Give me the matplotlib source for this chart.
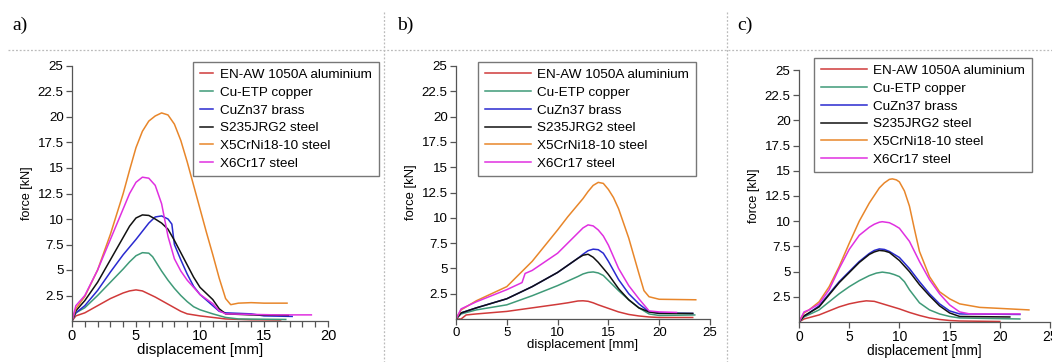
import matplotlib
matplotlib.use("Agg")
import matplotlib.pyplot as plt
from matplotlib.lines import Line2D

W, H = 1052, 362
DPI = 100

materials = ["EN-AW 1050A aluminium", "Cu-ETP copper", "CuZn37 brass",
             "S235JRG2 steel", "X5CrNi18-10 steel", "X6Cr17 steel"]
colors = ["#d03a3a", "#3f9a78", "#2a2ad0", "#111111", "#e8862a", "#e030e0"]
panel_labels = ["a)", "b)", "c)"]
ytick_vals = [2.5, 5, 7.5, 10, 12.5, 15, 17.5, 20, 22.5, 25]
ytick_labels = ["2.5", "5", "7.5", "10", "12.5", "15", "17.5", "20", "22.5", "25"]
xlabel = "displacement [mm]"
ylabel = "force [kN]"

# ---------------- panel a ----------------
a_al_x = [0, 0.3, 1, 2, 3, 4, 4.5, 5, 5.5, 6, 6.5, 7, 7.5, 8, 8.5, 9, 10, 11, 12, 14, 16.3]
a_al_y = [0, 0.5, 0.8, 1.5, 2.2, 2.75, 2.95, 3.05, 2.95, 2.65, 2.35, 2.0, 1.65, 1.3, 0.95, 0.7, 0.5, 0.35, 0.2, 0.12, 0.1]
a_cu_x = [0, 0.3, 1, 2, 3, 4, 4.5, 5, 5.5, 6, 6.3, 6.6, 7, 7.5, 8, 8.5, 9, 9.5, 10, 11, 12, 13, 16.7]
a_cu_y = [0, 0.8, 1.3, 2.5, 3.8, 5.1, 5.8, 6.4, 6.7, 6.65, 6.3, 5.7, 4.9, 4.0, 3.2, 2.5, 1.9, 1.4, 1.1, 0.7, 0.35, 0.2, 0.15]
a_br_x = [0, 0.3, 1, 2, 3, 4, 5, 5.5, 6, 6.5, 7, 7.5, 7.8, 8.0, 8.5, 9, 9.5, 10, 11, 11.5, 12, 14, 15, 17.2]
a_br_y = [0, 0.8, 1.5, 3.0, 4.8, 6.5, 8.0, 8.8, 9.6, 10.2, 10.3, 10.0, 9.5, 7.5, 6.0, 4.6, 3.4, 2.6, 1.5, 0.95, 0.8, 0.7, 0.5, 0.45]
a_st_x = [0, 0.3, 1, 2, 3, 4, 4.5, 5, 5.5, 6, 6.5, 7, 7.5, 8, 8.5, 9, 9.5, 10, 11, 11.5, 12, 14, 16.9]
a_st_y = [0, 1.0, 2.0, 3.8, 6.0, 8.2, 9.3, 10.1, 10.4, 10.35, 10.0, 9.6, 9.0, 7.9, 6.7, 5.5, 4.3, 3.3, 2.1, 1.2, 0.7, 0.6, 0.55]
a_ss_x = [0, 0.3, 1, 2, 3, 4, 4.5, 5, 5.5, 6, 6.5, 7, 7.5, 8, 8.5, 9, 9.5, 10, 10.5, 11, 11.5, 12, 12.4, 13, 14, 15, 16.8]
a_ss_y = [0, 1.2, 2.4, 5.0, 8.5, 12.5, 14.8, 17.0, 18.6, 19.6, 20.1, 20.4, 20.2, 19.3, 17.7, 15.6, 13.3, 11.0, 8.7, 6.5, 4.2, 2.2, 1.6, 1.75, 1.8, 1.75, 1.75]
a_fe_x = [0, 0.3, 1, 2, 3, 4, 4.5, 5, 5.5, 6, 6.5, 7, 7.5, 8, 8.5, 9, 10, 11, 11.5, 12, 14, 16, 18.7]
a_fe_y = [0, 1.5, 2.5, 5.0, 8.0, 11.0, 12.5, 13.6, 14.1, 14.0, 13.3, 11.5, 8.3, 6.1, 4.9, 4.0, 2.6, 1.7, 1.0, 0.7, 0.65, 0.6, 0.6]

# ---------------- panel b ----------------
b_al_x = [0, 0.5, 1, 2, 5, 7.5, 10, 11, 12, 12.5, 13, 13.5, 14, 15, 16, 17, 18, 19, 20, 23.3]
b_al_y = [0, 0.0, 0.4, 0.5, 0.75, 1.1, 1.45, 1.6, 1.78, 1.8, 1.75, 1.6, 1.4, 1.05, 0.7, 0.45, 0.3, 0.2, 0.15, 0.15]
b_cu_x = [0, 0.5, 2, 5, 7.5, 10, 11, 12, 12.5, 13, 13.5, 14, 14.5, 15, 16, 17, 18, 19, 20, 23.5]
b_cu_y = [0, 0.5, 0.9, 1.4, 2.3, 3.3, 3.75, 4.2, 4.45, 4.6, 4.65, 4.55, 4.3, 3.8, 2.8, 1.9, 1.1, 0.5, 0.35, 0.4]
b_br_x = [0, 0.5, 2, 5, 7.5, 10, 11, 12, 12.5, 13, 13.5, 14, 14.5, 15, 16, 17, 18, 19, 20, 23.3]
b_br_y = [0, 0.6, 1.1, 2.0, 3.2, 4.6, 5.3, 6.0, 6.4, 6.75, 6.9, 6.85, 6.5, 5.7, 3.9, 2.5, 1.5, 0.7, 0.6, 0.55]
b_st_x = [0, 0.5, 2, 5, 7.5, 10, 11, 12, 12.5, 13, 13.5, 14, 15, 16, 17, 18, 19, 20, 23.3]
b_st_y = [0, 0.6, 1.1, 2.0, 3.2, 4.6, 5.3, 6.0, 6.3, 6.4, 6.1, 5.6, 4.4, 3.0, 1.9, 1.1, 0.7, 0.55, 0.55]
b_ss_x = [0, 0.5, 2, 5, 7.5, 10, 11, 12, 12.5, 13, 13.5, 14, 14.5, 15, 15.5, 16, 17, 18, 18.5, 19, 20, 23.6]
b_ss_y = [0, 0.9, 1.8, 3.2, 5.7, 8.8, 10.1, 11.3, 11.9, 12.6, 13.2, 13.5, 13.4, 12.8, 12.0, 10.9, 8.0, 4.5, 2.8, 2.2, 1.95, 1.9]
b_fe_x = [0, 0.5, 2, 4, 5, 6.5, 6.8, 7.5, 10, 11, 12, 12.5, 13, 13.5, 14, 14.5, 15, 16, 17, 18, 19, 20, 21.7]
b_fe_y = [0, 1.0, 1.7, 2.5, 2.9, 3.6, 4.5, 4.8, 6.5, 7.5, 8.5, 9.0, 9.3, 9.2, 8.8, 8.2, 7.3, 5.0, 3.3, 2.0, 0.8, 0.7, 0.65]

# ---------------- panel c ----------------
c_al_x = [0, 0.5, 2, 3, 4, 5, 6, 6.7, 7.5, 8, 9, 10, 11, 12, 13, 14, 15, 16, 20]
c_al_y = [0, 0.3, 0.7, 1.1, 1.5, 1.8, 2.0, 2.1, 2.05, 1.9, 1.6, 1.3, 0.95, 0.65, 0.4, 0.25, 0.15, 0.1, 0.05]
c_cu_x = [0, 0.5, 2, 3, 4, 5, 6, 7, 7.7, 8.3, 9, 9.5, 10, 10.5, 11, 12, 13, 14, 15, 16, 22]
c_cu_y = [0, 0.5, 1.2, 2.0, 2.8, 3.5, 4.1, 4.6, 4.85, 4.95, 4.85, 4.7, 4.5, 4.0, 3.2, 1.9, 1.2, 0.8, 0.55, 0.4, 0.3]
c_br_x = [0, 0.5, 1, 2, 3, 4, 5, 6, 7, 7.5, 8, 8.5, 9, 10, 11, 12, 13, 14, 15, 16, 22]
c_br_y = [0, 0.6, 0.9, 1.6, 2.8, 4.0, 5.0, 6.0, 6.8, 7.1, 7.25, 7.2, 7.0, 6.4, 5.3, 4.0, 2.8, 1.8, 1.1, 0.8, 0.75]
c_st_x = [0, 0.5, 1, 2, 3, 4, 5, 6, 7, 7.5, 8, 8.5, 9, 10, 11, 12, 13, 14, 15, 16, 21]
c_st_y = [0, 0.6, 0.9, 1.5, 2.7, 3.9, 4.9, 5.9, 6.7, 6.95, 7.1, 7.05, 6.9, 6.1, 5.0, 3.7, 2.6, 1.6, 0.9, 0.55, 0.5]
c_ss_x = [0, 0.5, 1, 2, 3, 4, 5, 6, 7, 8, 8.5, 9, 9.3, 9.7, 10, 10.5, 11, 11.5, 12, 13, 14, 15, 16, 18, 20, 22.9]
c_ss_y = [0, 0.9, 1.2, 2.0, 3.5, 5.5, 7.8, 10.0, 11.8, 13.3, 13.8, 14.15, 14.2, 14.1, 13.9, 13.0, 11.5, 9.2, 7.0, 4.5, 3.0, 2.3, 1.8, 1.45, 1.35, 1.2]
c_fe_x = [0, 0.5, 1, 2, 3, 4, 5, 6, 7, 7.5, 8, 8.3, 9, 9.5, 10, 11, 12, 13, 14, 15, 16, 17, 22]
c_fe_y = [0, 1.0, 1.2, 1.8, 3.2, 5.3, 7.2, 8.6, 9.4, 9.7, 9.9, 9.95, 9.85, 9.6, 9.3, 8.0, 6.0, 4.2, 2.8, 1.7, 1.0, 0.8, 0.8]

panels = [
    [(a_al_x, a_al_y), (a_cu_x, a_cu_y), (a_br_x, a_br_y), (a_st_x, a_st_y), (a_ss_x, a_ss_y), (a_fe_x, a_fe_y)],
    [(b_al_x, b_al_y), (b_cu_x, b_cu_y), (b_br_x, b_br_y), (b_st_x, b_st_y), (b_ss_x, b_ss_y), (b_fe_x, b_fe_y)],
    [(c_al_x, c_al_y), (c_cu_x, c_cu_y), (c_br_x, c_br_y), (c_st_x, c_st_y), (c_ss_x, c_ss_y), (c_fe_x, c_fe_y)],
]

plt.rcParams['font.family'] = ['Liberation Sans', 'DejaVu Sans']

fig = plt.figure(figsize=(W / DPI, H / DPI), dpi=DPI)


def fx(px):
    return px / W


def fy(py):
    return 1 - py / H


# axes boxes in pixels: (x0, x_end, y_bottom, y_top)
boxes = [(72, 328, 321, 66), (456, 710, 319, 66), (799, 1050, 322, 70)]
xmaxes = [20, 25, 25]
xtick_sets = [[0, 5, 10, 15, 20], [0, 5, 10, 15, 20, 25], [0, 5, 10, 15, 20, 25]]
xtick_fs = [10.5, 9.5, 10]
xlabel_fs = [10.8, 9.5, 9.8]
ylabel_fs = [9.0, 9.4, 9.2]
ytick_fs = [9.6, 9.6, 9.6]
# legends: (left px, top px, handlelength)
legends = [(193, 62, 1.0), (478, 62, 3.4), (814, 58, 3.4)]
label_pos = [(12, 30), (397, 30), (737, 30)]

grey = "#555555"
for i in range(3):
    x0, x1, yb, yt = boxes[i]
    ax = fig.add_axes([fx(x0), fy(yb), fx(x1 - x0), (yb - yt) / H])
    for (xs, ys), col, name in zip(panels[i], colors, materials):
        ax.plot(xs, ys, color=col, lw=1.1, label=name, solid_joinstyle="round")
    ax.set_xlim(0, xmaxes[i])
    ax.set_ylim(0, 25)
    for s in ["top", "right"]:
        ax.spines[s].set_visible(False)
    for s in ["left", "bottom"]:
        ax.spines[s].set_color(grey)
        ax.spines[s].set_linewidth(0.9)
    ax.set_yticks(ytick_vals)
    ax.set_yticklabels(ytick_labels, fontsize=ytick_fs[i])
    ax.set_xticks(xtick_sets[i])
    ax.set_xticklabels([str(v) for v in xtick_sets[i]], fontsize=xtick_fs[i])
    ax.tick_params(axis="both", direction="out", length=4, width=0.9, color=grey, pad=2)
    if i == 0:
        ax.set_xticks([v for v in range(0, 21) if v % 5 != 0], minor=True)
        ax.tick_params(axis="x", which="minor", direction="out", length=4, width=0.9, color=grey)
    ax.set_xlabel(xlabel, fontsize=xlabel_fs[i], labelpad=0)
    ax.set_ylabel(ylabel, fontsize=ylabel_fs[i], labelpad=3)

    lx, ly, hl = legends[i]
    leg = ax.legend(loc="upper left", bbox_to_anchor=(fx(lx), fy(ly)),
                    bbox_transform=fig.transFigure, fontsize=9.7, frameon=True,
                    fancybox=False, handlelength=hl, handletextpad=0.5,
                    labelspacing=0.39, borderpad=0.5, borderaxespad=0)
    leg.get_frame().set_edgecolor(grey)
    leg.get_frame().set_linewidth(1.0)
    for ln in leg.get_lines():
        ln.set_linewidth(1.1)

    tx, ty = label_pos[i]
    fig.text(fx(tx), fy(ty), panel_labels[i], fontsize=14,
             family=['Liberation Serif', 'DejaVu Serif'], ha="left", va="baseline")

# dotted separators
fig.add_artist(Line2D([fx(8), 1], [fy(50), fy(50)], color="#bbbbbb", lw=0.9, ls=(0, (1.5, 1.5))))
for xs in (384, 727):
    fig.add_artist(Line2D([fx(xs), fx(xs)], [fy(12), 0], color="#bbbbbb", lw=0.9, ls=(0, (1.5, 1.5))))

fig.savefig("out.png", dpi=DPI)
